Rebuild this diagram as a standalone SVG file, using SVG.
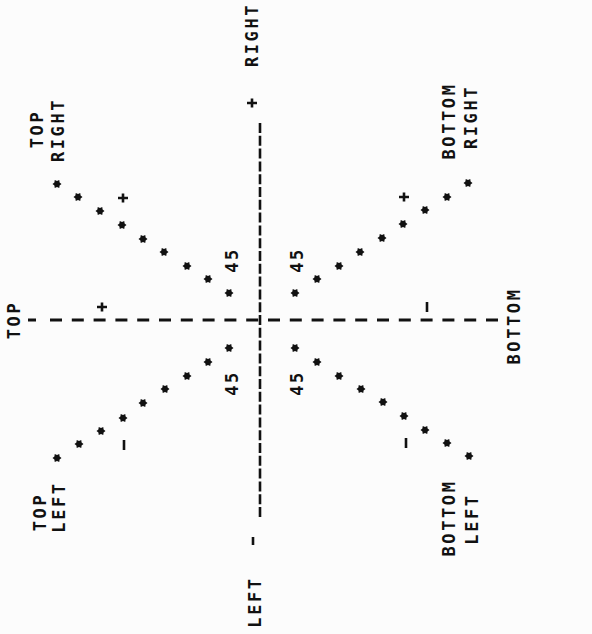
<svg xmlns="http://www.w3.org/2000/svg" xmlns:xlink="http://www.w3.org/1999/xlink" width="592" height="634" viewBox="0 0 592 634">
<style>
.t{font-family:"DejaVu Sans Mono","Liberation Mono",monospace;font-weight:bold;font-size:17px;letter-spacing:2.6px;fill:#111;text-anchor:middle;dominant-baseline:central}
.ax{stroke:#111;fill:none}
.tk{stroke:#111;stroke-width:2.6;fill:none}
</style>
<defs>
<polygon id="s" fill="#111" points="4.5,0 2.6,1.5 2.25,3.9 0,3 -2.25,3.9 -2.6,1.5 -4.5,0 -2.6,-1.5 -2.25,-3.9 0,-3 2.25,-3.9 2.6,-1.5"/>
<path id="p" d="M-5,0H5M0,-4.5V4.5" stroke="#111" stroke-width="2.6" fill="none"/>
</defs>
<rect width="592" height="634" fill="#fcfcfc"/>
<g id="connectors">
<line class="ax" x1="28" y1="320" x2="36" y2="320" stroke-width="3"/>
<line class="ax" x1="50" y1="320" x2="500" y2="320" stroke-width="3" stroke-dasharray="12 9.8"/>
<line class="ax" x1="260" y1="123" x2="260" y2="518" stroke-width="2.6" stroke-dasharray="10 2.8"/>
</g>
<g id="marks">
<use xlink:href="#p" x="252" y="103"/>
<use xlink:href="#p" x="123" y="198"/>
<use xlink:href="#p" x="404" y="197"/>
<use xlink:href="#p" x="102" y="307"/>
<line class="tk" x1="124" y1="440" x2="124" y2="450"/>
<line class="tk" x1="406" y1="438" x2="406" y2="448"/>
<line class="tk" x1="427" y1="302" x2="427" y2="312"/>
<line class="tk" x1="253" y1="537" x2="253" y2="545"/>
</g>
<g id="top-right-series">
<use xlink:href="#s" x="57" y="184"/><use xlink:href="#s" x="78" y="197"/><use xlink:href="#s" x="100" y="211"/>
<use xlink:href="#s" x="122" y="225"/><use xlink:href="#s" x="143" y="239"/><use xlink:href="#s" x="164" y="252"/>
<use xlink:href="#s" x="187" y="266"/><use xlink:href="#s" x="208" y="279"/><use xlink:href="#s" x="229" y="293"/>
</g>
<g id="bottom-right-series">
<use xlink:href="#s" x="295" y="293"/><use xlink:href="#s" x="317" y="279"/><use xlink:href="#s" x="339" y="266"/>
<use xlink:href="#s" x="360" y="252"/><use xlink:href="#s" x="382" y="238"/><use xlink:href="#s" x="403" y="224"/>
<use xlink:href="#s" x="425" y="210"/><use xlink:href="#s" x="447" y="197"/><use xlink:href="#s" x="468" y="183"/>
</g>
<g id="top-left-series">
<use xlink:href="#s" x="229" y="348"/><use xlink:href="#s" x="208" y="362"/><use xlink:href="#s" x="187" y="376"/>
<use xlink:href="#s" x="165" y="389"/><use xlink:href="#s" x="143" y="403"/><use xlink:href="#s" x="123" y="418"/>
<use xlink:href="#s" x="101" y="431"/><use xlink:href="#s" x="79" y="444"/><use xlink:href="#s" x="57" y="458"/>
</g>
<g id="bottom-left-series">
<use xlink:href="#s" x="295" y="348"/><use xlink:href="#s" x="317" y="362"/><use xlink:href="#s" x="339" y="376"/>
<use xlink:href="#s" x="361" y="389"/><use xlink:href="#s" x="383" y="402"/><use xlink:href="#s" x="404" y="416"/>
<use xlink:href="#s" x="425" y="430"/><use xlink:href="#s" x="447" y="443"/><use xlink:href="#s" x="469" y="456"/>
</g>
<g id="labels">
<text class="t" transform="translate(252,35) rotate(-90)">RIGHT</text>
<text class="t" transform="translate(14,320) rotate(-90)">TOP</text>
<text class="t" transform="translate(514,326) rotate(-90)">BOTTOM</text>
<text class="t" transform="translate(255,602) rotate(-90)">LEFT</text>
<text class="t" transform="translate(37,129) rotate(-90)">TOP</text>
<text class="t" transform="translate(58,130) rotate(-90)">RIGHT</text>
<text class="t" transform="translate(449,121) rotate(-90)">BOTTOM</text>
<text class="t" transform="translate(471,117) rotate(-90)">RIGHT</text>
<text class="t" transform="translate(40,512) rotate(-90)">TOP</text>
<text class="t" transform="translate(59,507) rotate(-90)">LEFT</text>
<text class="t" transform="translate(449,518) rotate(-90)">BOTTOM</text>
<text class="t" transform="translate(472,519) rotate(-90)">LEFT</text>
<text class="t" transform="translate(232,260) rotate(-90)">45</text>
<text class="t" transform="translate(297,260) rotate(-90)">45</text>
<text class="t" transform="translate(232,383) rotate(-90)">45</text>
<text class="t" transform="translate(297,383) rotate(-90)">45</text>
</g>
</svg>
